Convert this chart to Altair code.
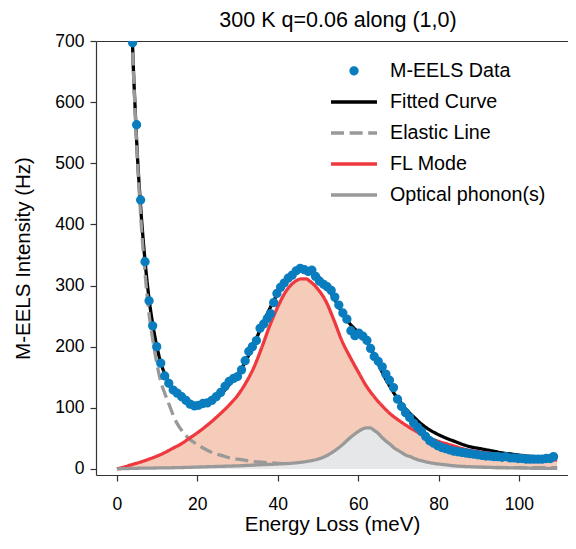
import altair as alt
import pandas as pd

# ---------------- data ----------------
data_x = [3.9, 4.9, 5.9, 7.0, 8.0, 8.9, 9.9, 10.9, 11.9, 12.9, 14.0, 15.0, 16.1, 17.2, 18.2,
          19.3, 20.3, 21.4, 22.5, 23.6, 24.7, 25.8, 26.9, 27.9, 29.0, 30.0, 31.0, 31.9, 32.8,
          33.7, 34.7, 35.6, 36.5, 37.4, 38.2, 39.0, 39.8, 40.7, 41.6, 42.6, 43.6, 44.6, 45.6,
          46.6, 47.6, 48.5, 49.4, 50.4, 51.4, 52.3, 53.3, 54.2, 55.2, 56.2, 57.2, 58.2, 59.2,
          60.2, 61.2, 62.2, 63.1, 64.0, 65.0, 66.0, 66.9, 67.8, 68.8, 69.8, 70.8, 71.8, 72.8,
          73.8, 74.8, 75.8, 76.8, 77.8, 78.8, 79.8, 80.8, 81.8, 82.8, 83.8, 84.8, 85.8, 86.8,
          87.8, 88.8, 89.8, 90.8, 91.8, 92.8, 93.8, 94.8, 95.8, 96.8, 97.8, 98.8, 99.8, 100.8,
          101.8, 102.8, 103.8, 104.8, 105.8, 106.8, 107.8, 108.6]
data_y = [697, 563, 440, 339, 275, 234, 200, 173, 152, 140, 129, 124, 118, 112, 106,
          103, 104, 107, 108, 112, 118, 125, 135, 143, 148, 151, 162, 177, 192,
          200, 210, 230, 237, 246, 254, 272, 287, 297, 304, 312, 317, 324, 328,
          326, 323, 325, 315, 307, 302, 298, 292, 281, 268, 255, 245, 226, 218,
          222, 217, 210, 197, 184, 176, 167, 155, 145, 133, 114, 102, 92, 84,
          75, 68, 61, 53, 46, 42, 38, 35, 33, 31, 29, 28, 27, 26,
          25, 24, 23, 22, 21, 21, 20, 20, 19, 20, 18, 18, 17, 17,
          16, 16, 16, 16, 16, 17, 17, 20]

fit_x = [3.8, 4.0, 4.5, 5.0, 6.0, 7.0, 8.0, 9.0, 10.0, 11.0, 12.0, 13.0, 14.0, 15.0, 16.0,
         17.0, 18.0, 19.0, 20.0, 22.0, 24.0, 26.0, 28.0, 30.0, 32.0, 34.0, 36.0, 38.0, 40.0,
         42.0, 44.0, 46.0, 48.0, 50.0, 52.0, 54.0, 56.0, 58.0, 60.0, 61.0, 62.0, 63.0, 64.0,
         65.0, 66.0, 67.0, 68.0, 69.0, 70.0, 72.0, 74.0, 76.0, 78.0, 80.0, 82.0, 84.0, 86.0,
         88.0, 90.0, 92.0, 94.0, 96.0, 98.0, 100.0, 102.0, 104.0, 106.0, 108.0, 109.5]
fit_y = [712, 672, 595, 525, 420, 340, 278, 233, 198, 172, 154, 141, 131, 123, 117,
         112, 107, 104, 104, 106, 112, 123, 138, 154, 176, 203, 233, 262, 287,
         306, 320, 327, 325, 315, 300, 279, 256, 237, 224, 218, 209, 199, 186,
         172, 158, 145, 134, 123, 114, 97, 84, 72, 63, 56, 50, 45, 40,
         36, 33.5, 31, 28.5, 26, 24.4, 22.5, 21, 20, 19, 18, 17.5]

elastic_x = [3.8, 4.0, 4.5, 5.0, 6.0, 7.0, 8.0, 9.0, 10.0, 11.0, 12.0, 13.0, 14.0, 15.0,
             16.0, 17.0, 18.0, 20.0, 22.0, 24.0, 26.0, 28.0, 30.0, 32.0, 34.0, 36.0, 38.0,
             40.0, 42.0, 44.0, 46.0, 50.0, 60.0, 70.0, 80.0, 90.0, 100.0, 109.5]
elastic_y = [712, 670, 590, 520, 405, 320, 253, 208, 170, 141, 122, 105, 88, 74,
             64, 56, 49, 40, 32, 26, 22, 18, 16, 14, 12, 11, 10,
             9, 8.5, 8, 7.5, 6.5, 5, 4, 3, 2.5, 2, 2]

fl_x = [0, 2, 4, 6, 8, 10, 12, 14, 16, 18, 20, 22, 24, 26, 28, 30, 32, 34, 36, 38, 40,
        42, 44, 46, 47, 48, 50, 52, 54, 56, 58, 60, 62, 64, 66, 68, 70, 72, 74, 76, 78,
        80, 82, 84, 86, 88, 90, 92, 94, 96, 98, 100, 102, 104, 106, 108, 109.5]
fl_y = [0, 3.5, 7.5, 11.5, 16, 21, 27, 34, 41, 50, 59, 69, 80, 92, 105, 120, 140, 165,
        198, 234, 265, 290, 305, 311, 311, 307, 294, 274, 243, 209, 183, 159, 136, 118,
        103, 90, 80, 71, 63, 56, 50, 45, 41, 37, 33, 30, 28, 26, 24, 22, 20.5, 19, 18,
        17, 16, 15, 14.5]

op_x = [0, 5, 10, 15, 20, 25, 30, 35, 40, 43, 46, 48, 50, 52, 54, 56, 58, 60, 61, 62, 63,
        64, 65, 66, 67, 68, 69, 70, 71, 72, 73, 74, 76, 78, 80, 82, 84, 88, 92, 96, 100,
        104, 109.5]
op_y = [0, 1, 1.5, 2, 3, 4, 5, 6.5, 8, 9, 11, 13, 16, 21, 29, 39, 51, 61, 65, 67, 67,
        63, 58, 51, 45, 40, 34, 30, 26, 22, 20, 17, 13, 10, 8, 6.5, 5, 3.5, 2.5, 2, 1.5,
        1, 1]

LINE_SYMBOL = "M-1.2,0L1.2,0"
series_names = ["M-EELS Data", "Fitted Curve", "Elastic Line", "FL Mode", "Optical phonon(s)"]
series_colors = ["#0a7dbf", "#000000", "#999999", "#ee3a3f", "#999999"]
series_shapes = ["circle", LINE_SYMBOL, LINE_SYMBOL, LINE_SYMBOL, LINE_SYMBOL]
series_sizes = [36, 1469, 1469, 1469, 1469]
series_dashes = [[1, 0], [1, 0], [13, 5.6], [1, 0], [1, 0]]

# ---------------- tables ----------------
df_data = pd.DataFrame({"x": data_x, "y": data_y, "series": series_names[0]})
df_fit = pd.DataFrame({"x": fit_x, "y": fit_y, "series": series_names[1]})
df_el = pd.DataFrame({"x": elastic_x, "y": elastic_y, "series": series_names[2]})
df_fl = pd.DataFrame({"x": fl_x, "y": fl_y, "series": series_names[3]})
df_op = pd.DataFrame({"x": op_x, "y": op_y, "series": series_names[4]})

FONT = "Liberation Sans"
xscale = alt.Scale(domain=[-5.2, 112.2], nice=False, zero=False)
yscale = alt.Scale(domain=[-10, 700], nice=False, zero=False)


def make_legend():
    return alt.Legend(
        title=None, orient="none", legendX=237, legendY=20, padding=0,
        symbolType="stroke", symbolStrokeWidth=3.3,
        labelFont=FONT, labelFontSize=19.7, labelColor="black", labelOffset=15,
        labelLimit=400, rowPadding=0,
    )


color = alt.Color("series:N", scale=alt.Scale(domain=series_names, range=series_colors),
                  legend=make_legend())
shape = alt.Shape("series:N", scale=alt.Scale(domain=series_names, range=series_shapes),
                  legend=make_legend())
size = alt.Size("series:N", scale=alt.Scale(type="ordinal", domain=series_names,
                                           range=series_sizes),
                legend=make_legend())
dash = alt.StrokeDash("series:N", scale=alt.Scale(domain=series_names, range=series_dashes),
                      legend=make_legend())

YTITLE = "M-EELS Intensity (Hz)"
yaxis = alt.Axis(title=YTITLE, values=[0, 100, 200, 300, 400, 500, 600, 700],
                 titlePadding=21)


def xenc(axis=None):
    if axis is None:
        return alt.X("x:Q", scale=xscale, axis=None)
    return alt.X("x:Q", scale=xscale, axis=axis)


yenc = alt.Y("y:Q", scale=yscale, axis=yaxis)

bottom_axis = alt.Axis(title="Energy Loss (meV)", values=[0, 20, 40, 60, 80, 100],
                       orient="bottom", labelPadding=14, titlePadding=2)
top_axis = alt.Axis(title="", orient="top", labels=False, ticks=False, domain=True)

red_fill = alt.Chart(df_fl).mark_area(color="#f5cbb9", interpolate="monotone", clip=True).encode(
    x=xenc(bottom_axis), y=yenc, y2=alt.datum(0))

fit_line = alt.Chart(df_fit).mark_line(strokeWidth=3.3, interpolate="monotone", clip=True).encode(
    x=xenc(), y=yenc, color=color, strokeDash=dash)

el_line = alt.Chart(df_el).mark_line(strokeWidth=3.3, interpolate="monotone",
                                     clip=True).encode(x=xenc(), y=yenc, color=color,
                                                       strokeDash=dash)

gray_fill = alt.Chart(df_op).mark_area(color="#e6e7e9", interpolate="monotone", clip=True).encode(
    x=xenc(top_axis), y=yenc, y2=alt.datum(0))

fl_line = alt.Chart(df_fl).mark_line(strokeWidth=3.3, interpolate="monotone", clip=True).encode(
    x=xenc(), y=yenc, color=color, strokeDash=dash)

op_line = alt.Chart(df_op).mark_line(strokeWidth=3.3, interpolate="monotone", clip=True).encode(
    x=xenc(), y=yenc, color=color, strokeDash=dash)

points = alt.Chart(df_data).mark_point(filled=True, stroke="#0a7dbf", strokeWidth=3.3,
                                       opacity=1, clip=True).encode(
    x=xenc(), y=yenc, color=color, shape=shape, size=size)

chart = alt.layer(
    red_fill, fit_line, el_line, gray_fill, fl_line, op_line, points
).resolve_axis(x="independent").properties(
    width=472, height=434,
    autosize=alt.AutoSizeParams(type="none"),
    padding={"left": 88, "top": 33, "right": 0, "bottom": 64},
    title=alt.Title("300 K q=0.06 along (1,0)", font=FONT, fontSize=21.5, fontWeight="normal",
                    color="black", anchor="middle", frame="group", offset=1, dx=6),
).configure_axis(
    labelFont=FONT, titleFont=FONT, labelFontSize=17.5, titleFontSize=20.5,
    labelColor="black", titleColor="black", titleFontWeight="normal",
    domainColor="#333333", tickColor="#333333", domainWidth=1.2, tickWidth=1.2,
    tickSize=6, labelPadding=6, grid=False,
).configure_axisBottom(labelPadding=14, titlePadding=2).configure_view(stroke=None)

chart.save("out.html", embed_options={"renderer": "svg", "actions": False})
